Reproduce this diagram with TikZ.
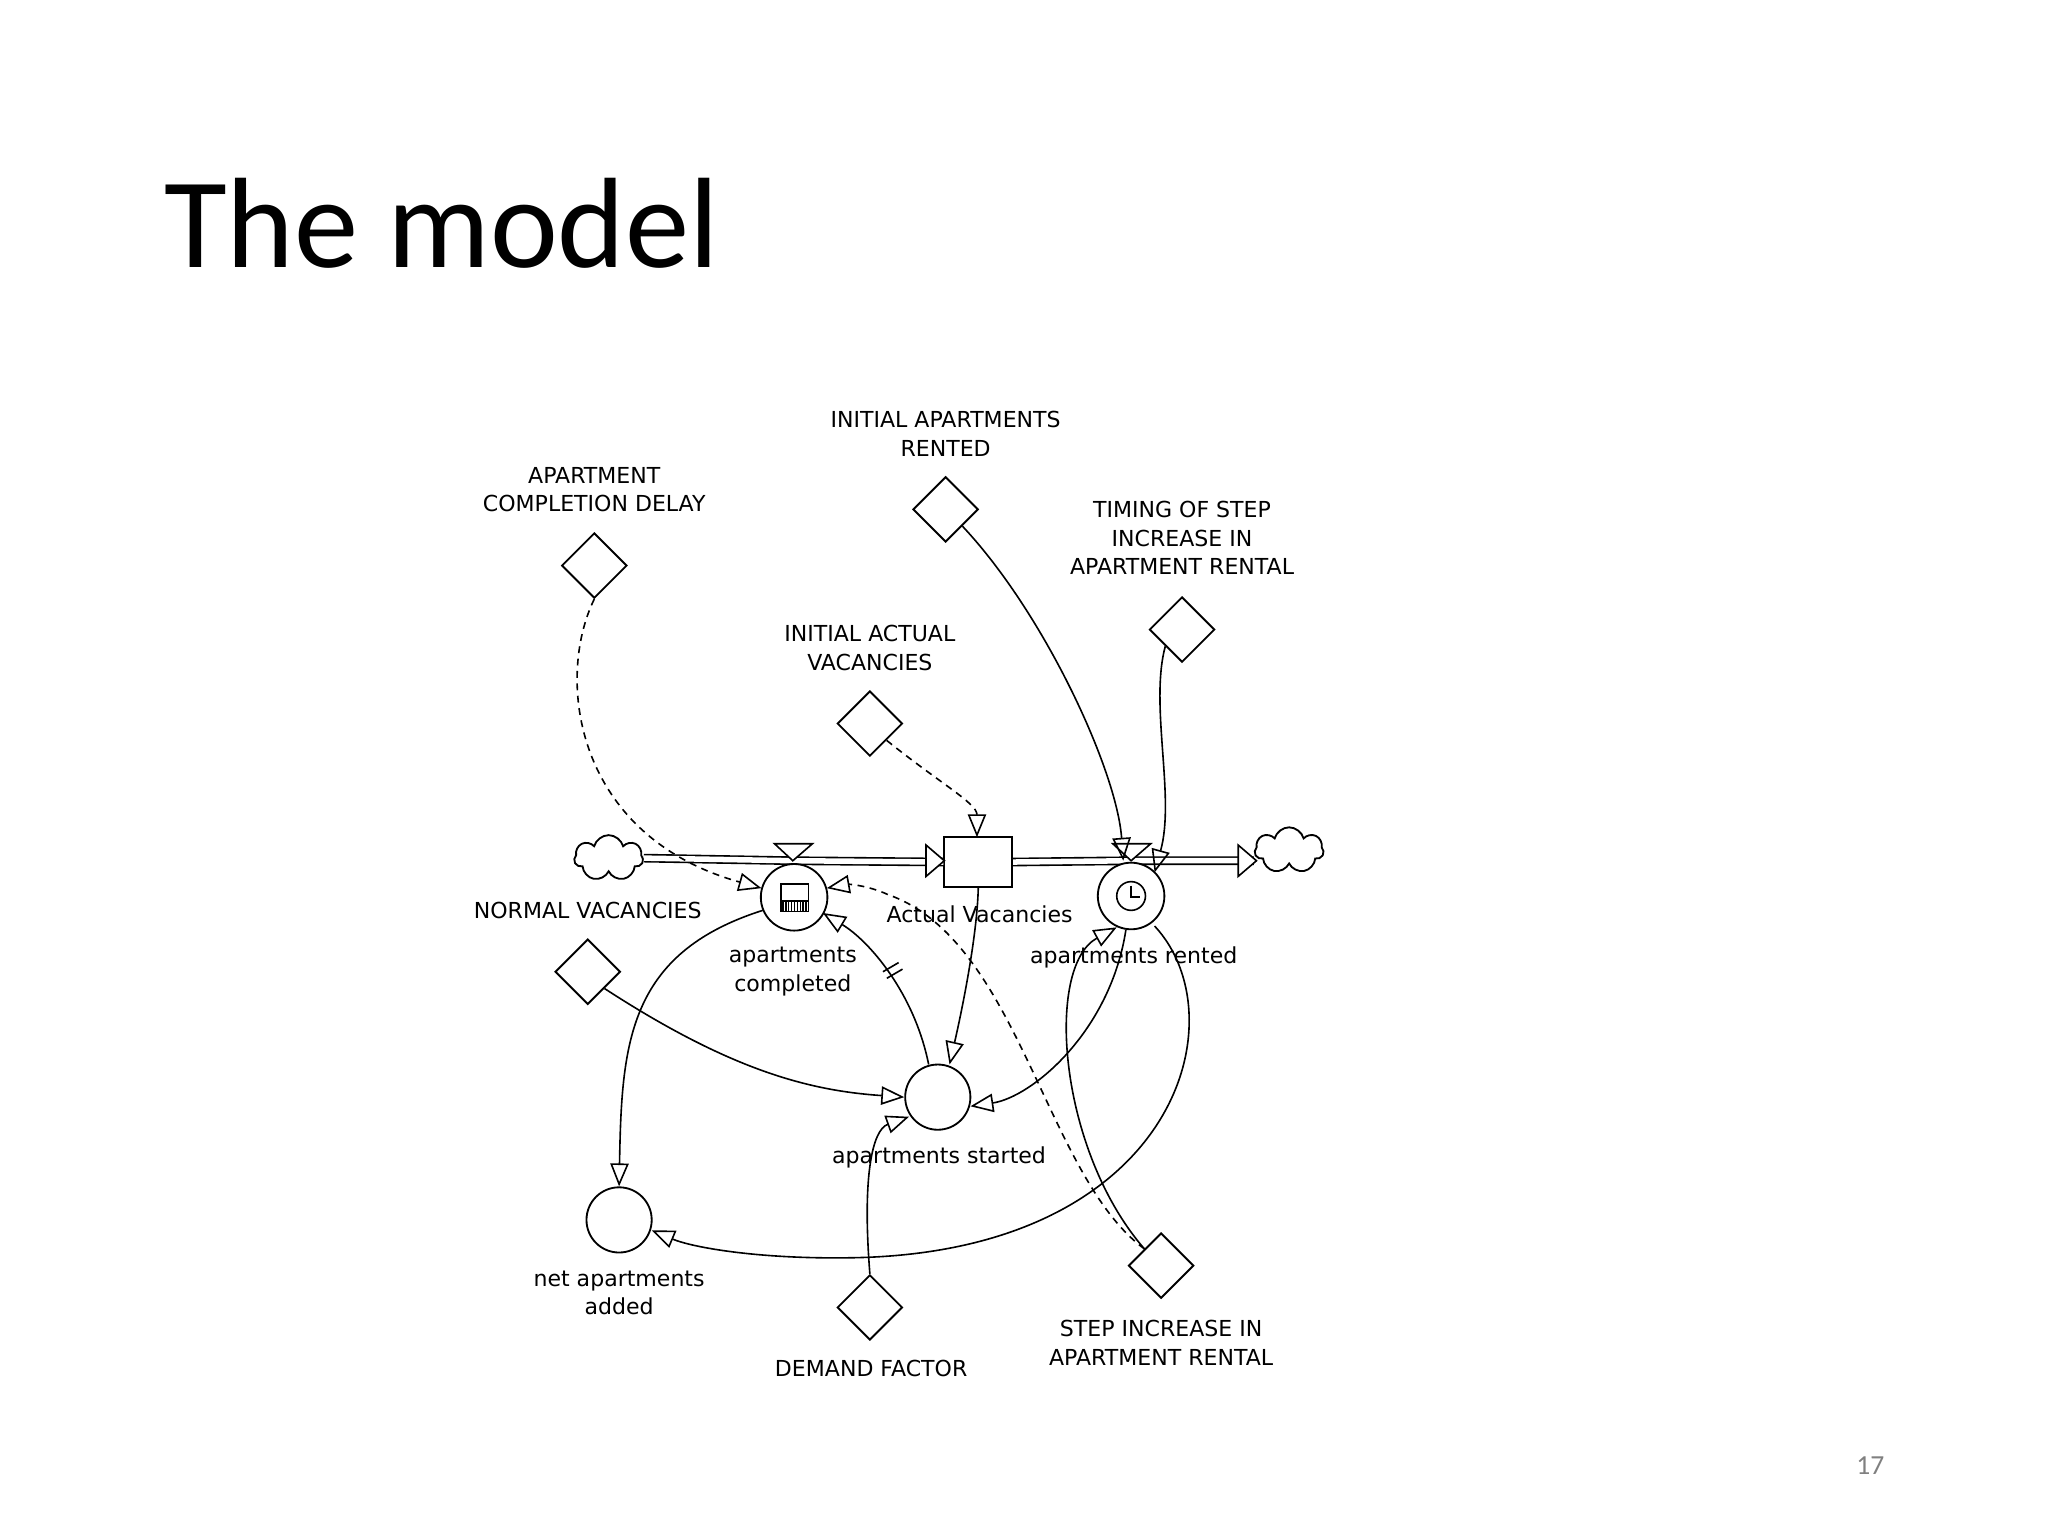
\documentclass[tikz,border=0pt]{standalone}
\usepackage{fontspec}
\setmainfont{DejaVu Sans}
\newfontfamily\titlefont{Carlito}
\usetikzlibrary{arrows.meta,shapes.geometric,shapes.symbols}
\begin{document}
\begin{tikzpicture}[x=0.01cm,y=-0.01cm,
  lbl/.style={font=\fontsize{4.8}{6.2}\selectfont,align=center,inner sep=0},
  aux/.style={draw,shape=diamond,minimum width=14.2pt,minimum height=14.2pt,inner sep=0,fill=white},
  circ/.style={draw,circle,minimum size=14.2pt,inner sep=0,fill=white},
  link/.style={-{Triangle[open,length=5pt,width=4pt]},line width=0.35pt},
  dlink/.style={link,dash pattern=on 1.5pt off 1.2pt},
  pipe/.style={double,double distance=1.2pt,line width=0.35pt}]
\useasboundingbox (0,0) rectangle (1568,1176);
\node[font=\titlefont\fontsize{28}{30}\selectfont,anchor=base west,inner sep=0] (title) at (125,205) {The model};
\node[font=\titlefont\fontsize{6}{7}\selectfont,text=gray] (pg) at (1432,1122) {17};
% clouds
\node[draw,cloud,cloud puffs=7,minimum width=15pt,minimum height=10pt,inner sep=0,fill=white] (c1) at (466,657) {};
\node[draw,cloud,cloud puffs=7,minimum width=15pt,minimum height=10pt,inner sep=0,fill=white] (c2) at (987,651) {};
% stock
\node[draw,minimum width=14.8pt,minimum height=10.8pt,inner sep=0,fill=white] (stock) at (749,660) {};
\node[lbl] (stockl) at (750,700) {Actual Vacancies};
% pipes
\draw[pipe] (c1.east) -- (608,659) coordinate (v1) -- (stock.west);
\draw[pipe] (stock.east) -- (866,659) coordinate (v2) -- (960,659) coordinate (pe);
\path (pe) -- (c2.west);
\draw[line width=0.35pt,fill=white] (709,647) -- (723,659) -- (709,671) -- cycle;
\draw[line width=0.35pt,fill=white] (948,647) -- (962,659) -- (948,671) -- cycle;
% valves
\node[circ,minimum size=14.5pt] (comp) at (608,687) {};
\draw[line width=0.35pt,fill=white] (593,646) -- (622,646) -- (607,659) -- cycle;
\draw[line width=0.35pt] (598,677) rectangle (619,698);
\foreach \i in {0,...,8} \draw[line width=0.3pt] (599.5+2.2*\i,690) -- (599.5+2.2*\i,698);
\draw[line width=0.35pt] (598,690) -- (619,690);
\node[circ,minimum size=14.5pt] (rent) at (866,686) {};
\draw[line width=0.35pt,fill=white] (852,646) -- (881,646) -- (866,659) -- cycle;
\draw[line width=0.35pt] (866,686) circle (11);
\draw[line width=0.35pt] (866,678) -- (866,687) -- (873,687);
\node[lbl] (compl) at (607,744) {apartments\\completed};
\node[lbl] (rentl) at (868,733) {apartments rented};
% auxiliaries
\node[aux] (acd) at (455,433) {};
\node[lbl] (acdl) at (455,375) {APARTMENT\\COMPLETION DELAY};
\node[aux] (iar) at (724,390) {};
\node[lbl] (iarl) at (724,332) {INITIAL APARTMENTS\\RENTED};
\node[aux] (tim) at (905,482) {};
\node[lbl] (timl) at (905,412) {TIMING OF STEP\\INCREASE IN\\APARTMENT RENTAL};
\node[aux] (iav) at (666,554) {};
\node[lbl] (iavl) at (666,496) {INITIAL ACTUAL\\VACANCIES};
\node[aux] (nv) at (450,744) {};
\node[lbl] (nvl) at (450,697) {NORMAL VACANCIES};
\node[aux] (df) at (666,1001) {};
\node[lbl] (dfl) at (667,1048) {DEMAND FACTOR};
\node[aux] (step) at (889,969) {};
\node[lbl] (stepl) at (889,1028) {STEP INCREASE IN\\APARTMENT RENTAL};
\node[circ] (start) at (718,840) {};
\node[lbl] (startl) at (719,886) {apartments started};
\node[circ] (net) at (474,934) {};
\node[lbl] (netl) at (474,990) {net apartments\\added};
% links
\draw[dlink] (acd.south) .. controls (425,520) and (440,640) .. (583,680);
\draw[link] (iar.south east) .. controls (800,470) and (855,590) .. (860,659);
\draw[link] (tim.south west) .. controls (880,540) and (900,610) .. (884,668);
\draw[dlink] (iav.south east) .. controls (720,600) and (748,615) .. (748,641);
\draw[link] (stock.south) .. controls (748,720) and (735,780) .. (727,815);
\draw[link] (584,697) .. controls (480,730) and (476,800) .. (net.north);
\draw[link] (nv.south east) .. controls (560,820) and (620,835) .. (start.west);
\draw[link] (711,815) .. controls (700,760) and (665,720) .. (630,699);
\draw[line width=0.35pt] (676,744) -- (688,737) (679,749) -- (691,742);
\draw[link] (862,712) .. controls (850,790) and (790,840) .. (743,847);
\draw[link] (884,709) .. controls (950,780) and (900,960) .. (650,963) .. controls (580,964) and (530,955) .. (499,942);
\draw[link] (df.north) .. controls (660,900) and (668,865) .. (696,855);
\draw[dlink] (step.north west) .. controls (800,900) and (780,720) .. (680,685) .. controls (665,678) and (650,677) .. (633,680);
\draw[link] (step.north west) .. controls (810,880) and (800,740) .. (855,710);
\end{tikzpicture}
\end{document}
